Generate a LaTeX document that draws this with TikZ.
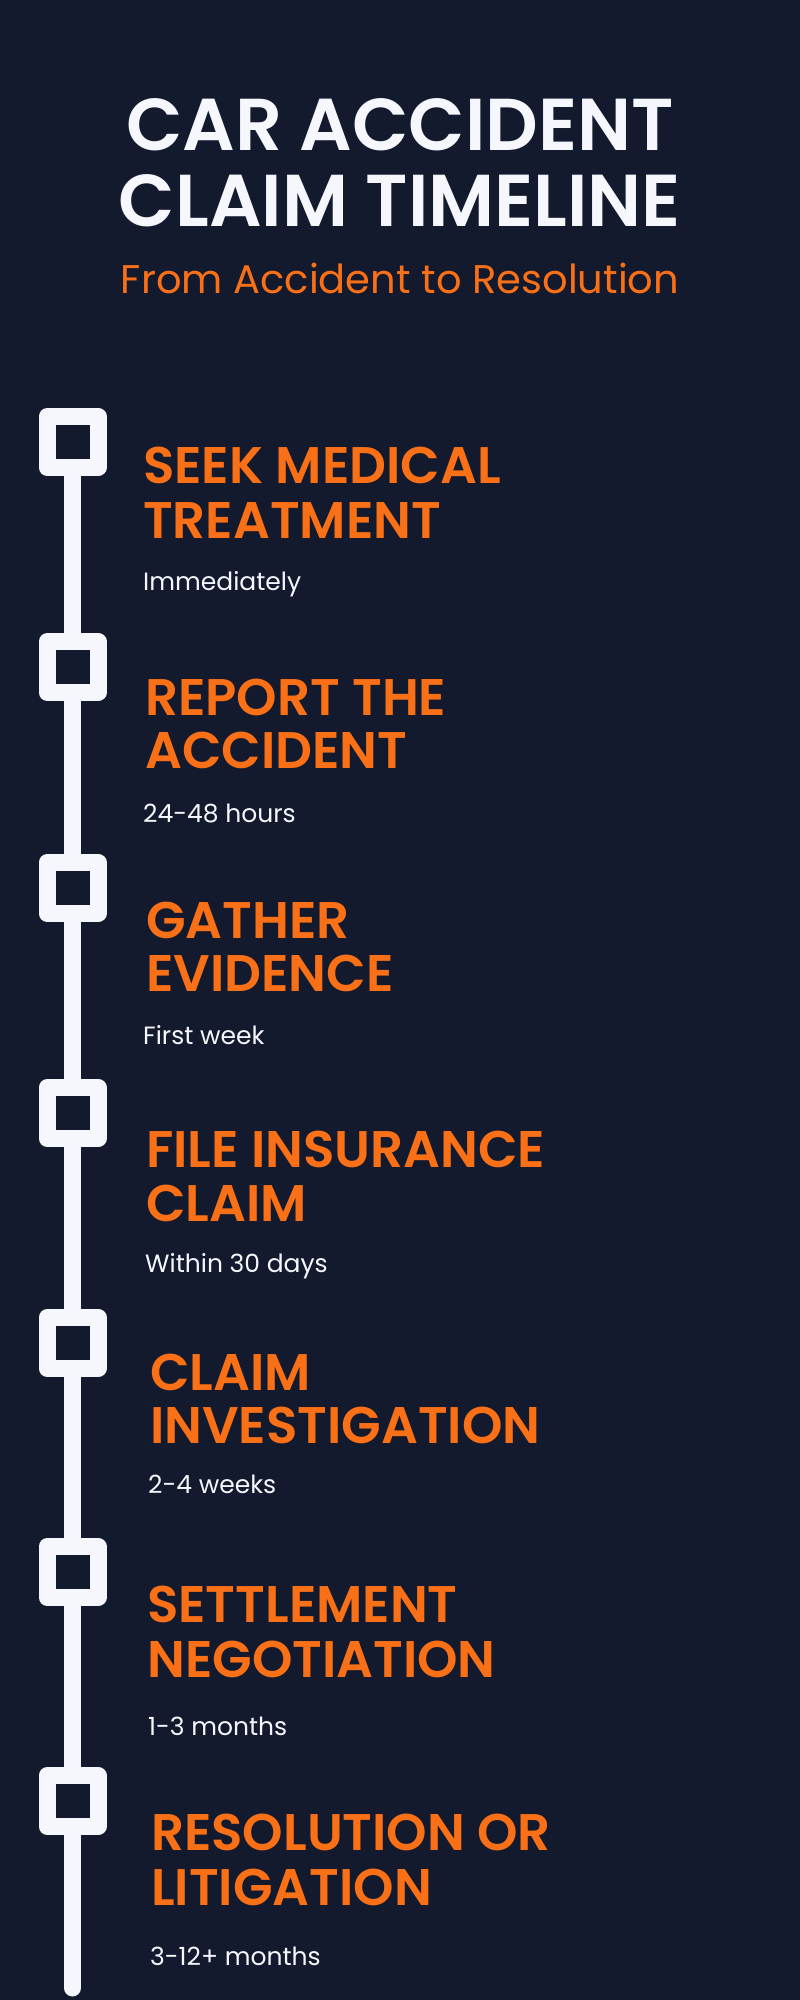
\documentclass[tikz,border=0pt]{standalone}
\usepackage{fontspec}
\setmainfont{Poppins}
\IfFontExistsTF{Poppins SemiBold}{\newfontfamily\ttlfont{Poppins SemiBold}}{\newfontfamily\ttlfont{Poppins}[UprightFont=*-Bold]}
\IfFontExistsTF{Poppins SemiBold}{\newfontfamily\hdfont{Poppins SemiBold}}{\newfontfamily\hdfont{Poppins}[UprightFont=*-Bold]}
\definecolor{bg}{HTML}{131A2E}
\definecolor{org}{HTML}{FA7017}
\definecolor{wht}{HTML}{F5F7FC}
\begin{document}
\begin{tikzpicture}[x=1pt,y=-1pt,
  titletext/.style={anchor=base, text=wht, inner sep=0pt, font=\ttlfont\fontsize{73.5}{80}\selectfont},
  subtitletext/.style={anchor=base, text=org, inner sep=0pt, font=\fontsize{40}{44}\selectfont},
  heading/.style={anchor=base west, text=org, inner sep=0pt, font=\hdfont\fontsize{51.5}{55}\selectfont},
  period/.style={anchor=base west, text=wht, inner sep=0pt, font=\fontsize{25}{28}\selectfont},
  marker/.style={draw=wht, line width=17pt, fill=bg, minimum size=51pt, inner sep=0pt, line join=round, outer sep=0pt},
  rail/.style={draw=wht, line width=17pt}
]
\fill[bg] (0,0) rectangle (800,2000);
\useasboundingbox (0,0) rectangle (800,2000);

% title
\node[titletext] (t1) at (400,150) {CAR ACCIDENT};
\node[titletext] (t2) at (400,226) {CLAIM TIMELINE};
\node[subtitletext] (st) at (400,293) {From Accident to Resolution};

% markers
\node[marker] (m1) at (72.5,442) {};
\node[marker] (m2) at (72.5,667) {};
\node[marker] (m3) at (72.5,888) {};
\node[marker] (m4) at (72.5,1113) {};
\node[marker] (m5) at (72.5,1343) {};
\node[marker] (m6) at (72.5,1572) {};
\node[marker] (m7) at (72.5,1801) {};
\coordinate (end) at (72.5,1988);

% rail
\draw[rail] (m1.south) -- (m2.north);
\draw[rail] (m2.south) -- (m3.north);
\draw[rail] (m3.south) -- (m4.north);
\draw[rail] (m4.south) -- (m5.north);
\draw[rail] (m5.south) -- (m6.north);
\draw[rail] (m6.south) -- (m7.north);
\draw[rail, line cap=round] (m7.south) -- (end);

% steps
\node[heading] (h1a) at (143,483) {SEEK MEDICAL};
\node[heading] (h1b) at (143,538) {TREATMENT};
\node[period]  (p1)  at (143,590) {Immediately};

\node[heading] (h2a) at (145,715) {REPORT THE};
\node[heading] (h2b) at (145,768) {ACCIDENT};
\node[period]  (p2)  at (143,822) {24-48 hours};

\node[heading] (h3a) at (146,938) {GATHER};
\node[heading] (h3b) at (146,991) {EVIDENCE};
\node[period]  (p3)  at (143,1044) {First week};

\node[heading] (h4a) at (146,1167) {FILE INSURANCE};
\node[heading] (h4b) at (146,1221) {CLAIM};
\node[period]  (p4)  at (145,1272) {Within 30 days};

\node[heading] (h5a) at (150,1390) {CLAIM};
\node[heading] (h5b) at (150,1443) {INVESTIGATION};
\node[period]  (p5)  at (148,1493) {2-4 weeks};

\node[heading] (h6a) at (147,1622) {SETTLEMENT};
\node[heading] (h6b) at (147,1677) {NEGOTIATION};
\node[period]  (p6)  at (148,1735) {1-3 months};

\node[heading] (h7a) at (151,1850) {RESOLUTION OR};
\node[heading] (h7b) at (151,1905) {LITIGATION};
\node[period]  (p7)  at (150,1965) {3-12+ months};
\end{tikzpicture}
\end{document}
